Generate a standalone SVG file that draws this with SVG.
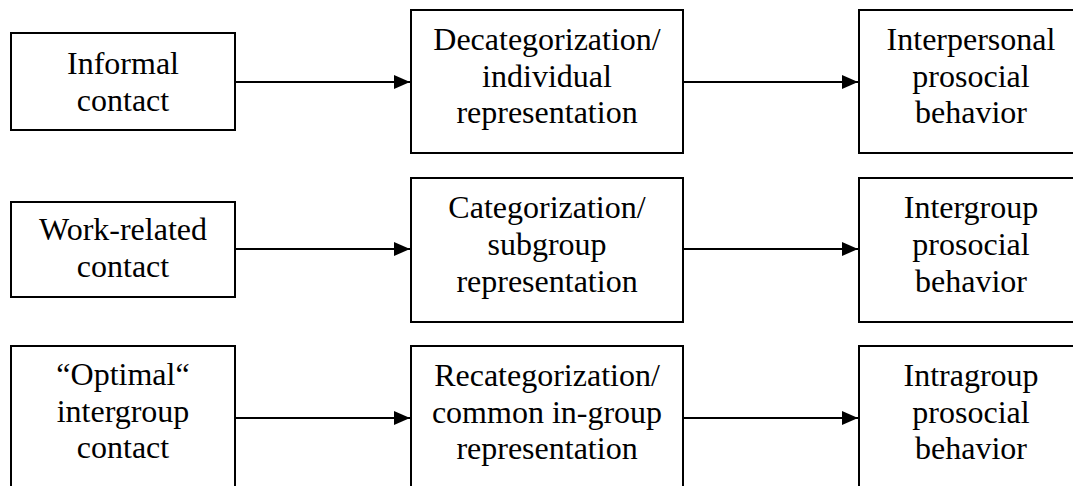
<svg xmlns="http://www.w3.org/2000/svg" width="1073" height="486" viewBox="0 0 1073 486">
  <style>
    .box { fill: #ffffff; stroke: #000000; stroke-width: 2; }
    .label { font-family: "Liberation Serif", "Times New Roman", serif; font-size: 32px; fill: #000000; text-anchor: middle; }
    .link { stroke: #000000; stroke-width: 2; fill: none; }
  </style>
  <defs>
    <marker id="arrow" viewBox="0 0 16 14" refX="16" refY="7" markerWidth="16" markerHeight="14" markerUnits="userSpaceOnUse" orient="auto">
      <path d="M0,0 L16,7 L0,14 Z" fill="#000000"/>
    </marker>
  </defs>
  <rect width="1073" height="486" fill="#ffffff"/>

  <!-- Row 1 -->
  <g id="informal-contact">
    <rect class="box" x="11" y="33" width="224" height="97"/>
    <text class="label" x="123" y="74">Informal</text>
    <text class="label" x="123" y="111">contact</text>
  </g>
  <g id="decategorization">
    <rect class="box" x="411" y="10" width="272" height="143"/>
    <text class="label" x="547" y="50">Decategorization/</text>
    <text class="label" x="547" y="87">individual</text>
    <text class="label" x="547" y="123">representation</text>
  </g>
  <g id="interpersonal-behavior">
    <rect class="box" x="859" y="10" width="224" height="143"/>
    <text class="label" x="971" y="50">Interpersonal</text>
    <text class="label" x="971" y="87">prosocial</text>
    <text class="label" x="971" y="123">behavior</text>
  </g>

  <!-- Row 2 -->
  <g id="work-related-contact">
    <rect class="box" x="11" y="202" width="224" height="95"/>
    <text class="label" x="123" y="240">Work-related</text>
    <text class="label" x="123" y="277">contact</text>
  </g>
  <g id="categorization">
    <rect class="box" x="411" y="178" width="272" height="144"/>
    <text class="label" x="547" y="218">Categorization/</text>
    <text class="label" x="547" y="255">subgroup</text>
    <text class="label" x="547" y="292">representation</text>
  </g>
  <g id="intergroup-behavior">
    <rect class="box" x="859" y="178" width="224" height="144"/>
    <text class="label" x="971" y="218">Intergroup</text>
    <text class="label" x="971" y="255">prosocial</text>
    <text class="label" x="971" y="292">behavior</text>
  </g>

  <!-- Row 3 -->
  <g id="optimal-contact">
    <rect class="box" x="11" y="346" width="224" height="144"/>
    <text class="label" x="123" y="385">“Optimal“</text>
    <text class="label" x="123" y="422">intergroup</text>
    <text class="label" x="123" y="458">contact</text>
  </g>
  <g id="recategorization">
    <rect class="box" x="411" y="346" width="272" height="144"/>
    <text class="label" x="547" y="386">Recategorization/</text>
    <text class="label" x="547" y="423">common in-group</text>
    <text class="label" x="547" y="459">representation</text>
  </g>
  <g id="intragroup-behavior">
    <rect class="box" x="859" y="346" width="224" height="144"/>
    <text class="label" x="971" y="386">Intragroup</text>
    <text class="label" x="971" y="423">prosocial</text>
    <text class="label" x="971" y="459">behavior</text>
  </g>

  <!-- Connectors -->
  <g id="connectors">
    <line class="link" x1="235" y1="82" x2="410" y2="82" marker-end="url(#arrow)"/>
    <line class="link" x1="683" y1="82" x2="858" y2="82" marker-end="url(#arrow)"/>
    <line class="link" x1="235" y1="249" x2="410" y2="249" marker-end="url(#arrow)"/>
    <line class="link" x1="683" y1="249" x2="858" y2="249" marker-end="url(#arrow)"/>
    <line class="link" x1="235" y1="418" x2="410" y2="418" marker-end="url(#arrow)"/>
    <line class="link" x1="683" y1="418" x2="858" y2="418" marker-end="url(#arrow)"/>
  </g>
</svg>
